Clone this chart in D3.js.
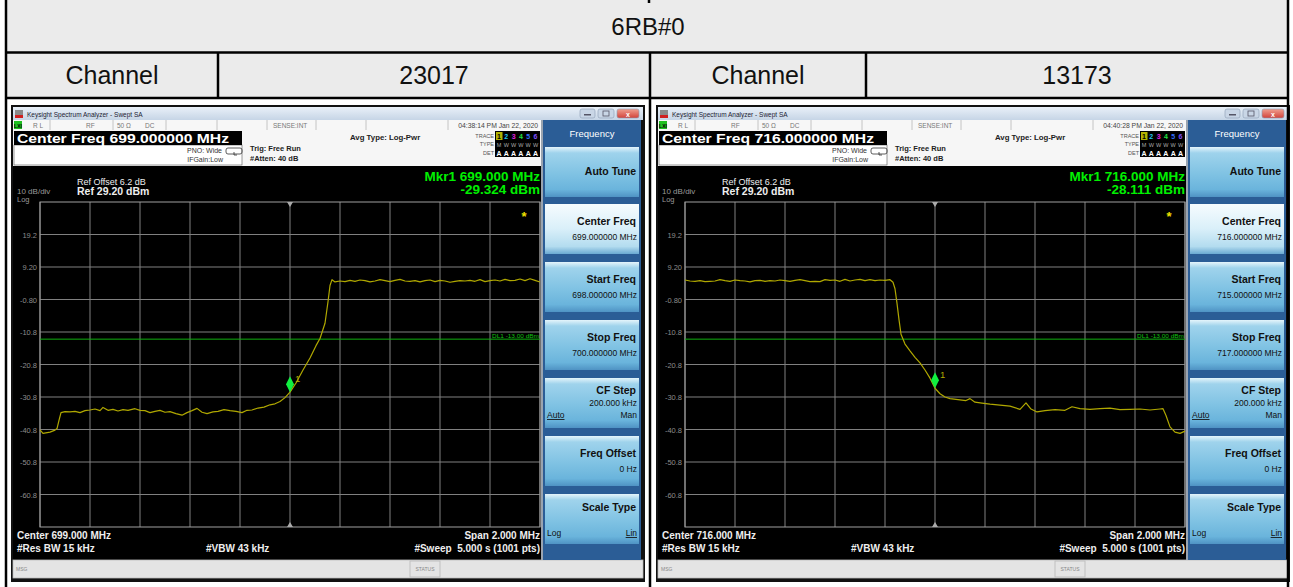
<!DOCTYPE html>
<html>
<head>
<meta charset="utf-8">
<script src="https://cdn.jsdelivr.net/npm/d3@7"></script>
<style>
  body { margin: 0; background: #fff; }
  svg { display: block; font-family: "Liberation Sans", Arial, sans-serif; }
</style>
</head>
<body>
<svg id="chart" width="1293" height="587"></svg>
<script>
// ---- table text ----
const tableTitle = "6RB#0";
const channelLabel = "Channel";
const channelNumbers = ["23017", "13173"];

// ---- analyzer settings (one entry per screenshot) ----
const centerFreqs = [699, 716];          // MHz
const spanMHz = 2;
const refLevel = 29.2;                   // dBm, top of graticule
const dbPerDiv = 10;
const displayLine = -13;                 // DL1
const markerDbm = [-29.324, -28.111];
const timeStamps = ["04:38:14 PM Jan 22, 2020", "04:40:28 PM Jan 22, 2020"];
const yTickValues = [19.2, 9.2, -0.8, -10.8, -20.8, -30.8, -40.8, -50.8, -60.8];
const yTickLabels = ["19.2", "9.20", "-0.80", "-10.8", "-20.8", "-30.8", "-40.8", "-50.8", "-60.8"];
const softkeyTitles = ["Auto Tune", "Center Freq", "Start Freq", "Stop Freq", "CF Step", "Freq Offset", "Scale Type"];

// ---- traces: [MHz, dBm] ----
const traceLow = [
  [698.000, -40.9], [698.012, -42.0], [698.040, -41.6], [698.060, -41.0], [698.068, -40.5],
  [698.076, -38.0], [698.084, -35.6], [698.100, -35.3], [698.120, -35.4], [698.140, -35.2],
  [698.160, -35.6], [698.180, -35.0], [698.200, -34.8], [698.220, -34.5], [698.240, -35.0],
  [698.252, -34.0], [698.272, -34.9], [698.292, -34.6], [698.312, -35.1], [698.332, -34.7],
  [698.352, -34.9], [698.380, -34.4], [698.400, -34.9], [698.420, -35.0], [698.440, -35.6],
  [698.460, -35.2], [698.480, -34.9], [698.500, -35.5], [698.520, -35.3], [698.544, -35.9],
  [698.568, -36.4], [698.588, -35.6], [698.608, -35.0], [698.628, -34.3], [698.648, -35.5],
  [698.668, -35.9], [698.692, -35.4], [698.712, -35.2], [698.736, -34.7], [698.760, -35.0],
  [698.784, -35.2], [698.808, -35.6], [698.828, -34.9], [698.848, -34.8], [698.872, -34.2],
  [698.896, -33.9], [698.920, -33.2], [698.940, -32.9], [698.960, -32.2], [698.980, -31.0],
  [699.000, -29.3], [699.024, -26.5], [699.052, -22.5], [699.080, -18.8], [699.104, -15.0],
  [699.120, -12.8], [699.140, -8.1], [699.152, -1.5], [699.160, 3.5], [699.168, 5.3],
  [699.18, 4.6], [699.20, 4.9], [699.22, 4.7], [699.24, 5.1], [699.26, 4.8], [699.28, 5.2],
  [699.30, 5.0], [699.32, 4.6], [699.34, 4.9], [699.36, 5.3], [699.38, 5.0], [699.40, 4.7],
  [699.42, 5.1], [699.44, 5.4], [699.46, 4.9], [699.48, 4.8], [699.50, 5.0], [699.52, 4.6],
  [699.54, 5.0], [699.56, 5.2], [699.58, 4.7], [699.60, 5.1], [699.62, 4.9], [699.64, 4.5],
  [699.66, 4.8], [699.68, 5.0], [699.70, 4.9], [699.72, 5.1], [699.74, 4.8], [699.76, 5.3],
  [699.78, 4.7], [699.80, 5.0], [699.82, 5.2], [699.84, 4.9], [699.86, 5.4], [699.88, 5.0],
  [699.90, 5.1], [699.92, 5.5], [699.94, 5.0], [699.96, 5.6], [699.98, 5.1], [700.00, 4.6]
];
const traceHigh = [
  [715.00, 5.2], [715.02, 4.9], [715.04, 4.8], [715.06, 5.0], [715.08, 4.7], [715.10, 4.8],
  [715.12, 4.9], [715.14, 5.3], [715.16, 5.0], [715.18, 4.8], [715.20, 5.2], [715.22, 5.0],
  [715.24, 4.9], [715.26, 4.6], [715.28, 5.0], [715.30, 5.1], [715.32, 4.8], [715.34, 5.0],
  [715.36, 4.9], [715.38, 5.2], [715.40, 5.0], [715.42, 4.8], [715.44, 5.1], [715.46, 5.3],
  [715.48, 5.0], [715.50, 4.7], [715.52, 4.8], [715.54, 4.7], [715.56, 5.3], [715.58, 5.1],
  [715.60, 5.2], [715.62, 4.8], [715.64, 5.4], [715.66, 4.9], [715.68, 5.2], [715.70, 5.4],
  [715.72, 5.0], [715.74, 5.3], [715.76, 5.0], [715.78, 5.2], [715.80, 5.1], [715.82, 5.3],
  [715.832, 4.5], [715.840, 2.5], [715.848, -2.0], [715.856, -7.0], [715.864, -11.5],
  [715.880, -14.5], [715.900, -16.6], [715.920, -18.6], [715.940, -20.3], [715.960, -22.5],
  [715.980, -25.0], [716.000, -28.1], [716.020, -29.8], [716.040, -30.8], [716.060, -31.3],
  [716.092, -31.6], [716.124, -31.9], [716.140, -31.3], [716.160, -32.4], [716.188, -32.7],
  [716.220, -33.0], [716.260, -33.3], [716.300, -33.6], [716.340, -34.6], [716.364, -32.6],
  [716.384, -34.5], [716.408, -35.4], [716.440, -35.0], [716.480, -34.7], [716.520, -34.9],
  [716.548, -33.8], [716.580, -34.4], [716.620, -34.6], [716.660, -34.4], [716.700, -34.2],
  [716.740, -34.7], [716.780, -34.6], [716.820, -34.5], [716.860, -34.8], [716.900, -34.5],
  [716.912, -34.4], [716.924, -36.5], [716.940, -40.0], [716.960, -41.6], [716.980, -42.0],
  [717.000, -41.3]
];
const traces = [traceLow, traceHigh];

const svg = d3.select("#chart");

// ---------- gradients ----------
const defs = svg.append("defs");
function grad(id, stops) {
  const lg = defs.append("linearGradient").attr("id", id).attr("x1", 0).attr("y1", 0).attr("x2", 0).attr("y2", 1);
  stops.forEach(([o, c]) => lg.append("stop").attr("offset", o).attr("stop-color", c));
}
grad("titleGrad", [[0, "#e9f0f8"], [1, "#c6d5e6"]]);
grad("keyGrad", [[0, "#e4f4fb"], [0.12, "#9fd3ec"], [0.55, "#7fc2e3"], [0.85, "#6ab4dc"], [1, "#4f93c4"]]);
grad("keySel", [[0, "#f6fcfe"], [0.5, "#d9eff9"], [0.85, "#b3dcef"], [1, "#6aa9d2"]]);
grad("closeGrad", [[0, "#f0a090"], [1, "#d2433a"]]);

// ---------- table ----------
const HEAD = "#ebebeb";
const cols = [6, 218, 650, 866, 1288];
svg.append("rect").attr("x", 6).attr("y", 0).attr("width", 1282).attr("height", 98).attr("fill", HEAD);

svg.append("text").attr("x", 648).attr("y", 35).attr("text-anchor", "middle")
  .attr("font-size", 24).attr("fill", "#111").text(tableTitle);

const row2 = [channelLabel, channelNumbers[0], channelLabel, channelNumbers[1]];
row2.forEach((t, i) => {
  svg.append("text").attr("x", (cols[i] + cols[i + 1]) / 2).attr("y", 84)
    .attr("text-anchor", "middle").attr("font-size", 25).attr("fill", "#111").text(t);
});

// ---------- analyzer screenshots ----------
function drawAnalyzer(ox, i) {
  const g = svg.append("g").attr("transform", `translate(${ox},0)`);
  const cf = centerFreqs[i];
  const x = d3.scaleLinear().domain([cf - spanMHz / 2, cf + spanMHz / 2]).range([40, 540]);
  const y = d3.scaleLinear().domain([refLevel - 10 * dbPerDiv, refLevel]).range([527, 202]);
  const f6 = v => v.toFixed(6), f3 = v => v.toFixed(3);

  // window frame + title bar
  g.append("rect").attr("x", 11).attr("y", 105).attr("width", 634).attr("height", 477).attr("fill", "#111");
  g.append("rect").attr("x", 13).attr("y", 107).attr("width", 630).attr("height", 13).attr("fill", "url(#titleGrad)");
  g.append("rect").attr("x", 15).attr("y", 110).attr("width", 8).attr("height", 8).attr("fill", "#8a8a8a");
  g.append("rect").attr("x", 15).attr("y", 115).attr("width", 8).attr("height", 3).attr("fill", "#d02020");
  g.append("text").attr("x", 27).attr("y", 116.5).attr("font-size", 6.5).attr("fill", "#223").text("Keysight Spectrum Analyzer - Swept SA");
  [[580, 15, "#c9d6e6"], [598, 16, "#c9d6e6"], [617, 22, "url(#closeGrad)"]].forEach(([bx, bw, f]) => {
    g.append("rect").attr("x", bx).attr("y", 109).attr("width", bw).attr("height", 9).attr("rx", 2)
      .attr("fill", f).attr("stroke", "#8a9cb4").attr("stroke-width", 0.6);
  });
  g.append("rect").attr("x", 584).attr("y", 114).attr("width", 7).attr("height", 1.5).attr("fill", "#556");
  g.append("rect").attr("x", 603).attr("y", 111).attr("width", 6).attr("height", 5).attr("fill", "none").attr("stroke", "#556").attr("stroke-width", 0.8);
  g.append("text").attr("x", 628).attr("y", 117).attr("text-anchor", "middle").attr("font-size", 7).attr("font-weight", "bold").attr("fill", "#fff").text("x");

  // status row
  g.append("rect").attr("x", 13).attr("y", 120).attr("width", 530).attr("height", 10).attr("fill", "#f7f7f7");
  g.append("rect").attr("x", 14).attr("y", 121).attr("width", 8).attr("height", 8).attr("fill", "#20c020");
  g.append("text").attr("x", 18).attr("y", 127.5).attr("text-anchor", "middle").attr("font-size", 5).attr("font-weight", "bold").attr("fill", "#000").text("LXI");
  [50, 113, 166, 217, 267, 316, 366, 448].forEach(sx => {
    g.append("line").attr("x1", sx).attr("x2", sx).attr("y1", 120).attr("y2", 130).attr("stroke", "#c4c4c4");
  });
  const st = [[33, "R L"], [86, "RF"], [117, "50 Ω"], [145, "DC"], [273, "SENSE:INT"]];
  st.forEach(([sx, t]) => g.append("text").attr("x", sx).attr("y", 128).attr("font-size", 6.5).attr("fill", "#777").text(t));
  g.append("text").attr("x", 538).attr("y", 128).attr("text-anchor", "end").attr("font-size", 6.8).attr("fill", "#444").text(timeStamps[i]);

  // settings area
  g.append("rect").attr("x", 13).attr("y", 130).attr("width", 530).attr("height", 36).attr("fill", "#f6f6f6");
  g.append("rect").attr("x", 14).attr("y", 145).attr("width", 228).attr("height", 20).attr("fill", "#fff")
    .attr("stroke", "#555").attr("stroke-width", 0.6);
  g.append("rect").attr("x", 14).attr("y", 131).attr("width", 228).attr("height", 14).attr("fill", "#000");
  g.append("text").attr("x", 17).attr("y", 142.5).attr("font-size", 13).attr("font-weight", "bold").attr("fill", "#fff")
    .attr("textLength", 212).attr("lengthAdjust", "spacingAndGlyphs")
    .text(`Center Freq ${f6(cf)} MHz`);
  g.append("text").attr("x", 222).attr("y", 153).attr("text-anchor", "end").attr("font-size", 7).attr("fill", "#333").text("PNO: Wide");
  g.append("text").attr("x", 223).attr("y", 162).attr("text-anchor", "end").attr("font-size", 7).attr("fill", "#333").text("IFGain:Low");
  g.append("path").attr("d", "M228,148 h12 a2,2 0 0 1 2,2 v2 a2,2 0 0 1 -2,2 h-12 a2,2 0 0 1 -2,-2 v-2 a2,2 0 0 1 2,-2 Z M234,152 v3 h3")
    .attr("fill", "none").attr("stroke", "#333").attr("stroke-width", 0.8);
  g.append("text").attr("x", 250).attr("y", 151).attr("font-size", 7.5).attr("font-weight", "bold").attr("fill", "#222").text("Trig: Free Run");
  g.append("text").attr("x", 250).attr("y", 161).attr("font-size", 7.5).attr("font-weight", "bold").attr("fill", "#222").text("#Atten: 40 dB");
  g.append("text").attr("x", 350).attr("y", 140).attr("font-size", 7.8).attr("font-weight", "bold").attr("fill", "#222").text("Avg Type: Log-Pwr");
  // trace block
  g.append("text").attr("x", 494).attr("y", 138).attr("text-anchor", "end").attr("font-size", 5.5).attr("fill", "#555").text("TRACE");
  g.append("text").attr("x", 494).attr("y", 146).attr("text-anchor", "end").attr("font-size", 5.5).attr("fill", "#555").text("TYPE");
  g.append("text").attr("x", 494).attr("y", 155).attr("text-anchor", "end").attr("font-size", 5.5).attr("fill", "#555").text("DET");
  g.append("rect").attr("x", 495).attr("y", 131).attr("width", 45).attr("height", 26).attr("fill", "#000");
  g.append("rect").attr("x", 496).attr("y", 132).attr("width", 6.5).attr("height", 8).attr("fill", "#b3b300");
  const traceCols = ["#000", "#22c8f0", "#e020e0", "#20e040", "#3070ff", "#8050ff"];
  traceCols.forEach((c, k) => {
    g.append("text").attr("x", 499 + k * 7.3).attr("y", 139).attr("text-anchor", "middle").attr("font-size", 7)
      .attr("font-weight", "bold").attr("fill", c).text(k + 1);
    g.append("text").attr("x", 499 + k * 7.3).attr("y", 147).attr("text-anchor", "middle").attr("font-size", 5.5)
      .attr("fill", "#aaa").text(k === 0 ? "M" : "W");
    g.append("text").attr("x", 499 + k * 7.3).attr("y", 155.5).attr("text-anchor", "middle").attr("font-size", 7)
      .attr("font-weight", "bold").attr("fill", "#fff").text("A");
  });

  // black display
  g.append("rect").attr("x", 13).attr("y", 166).attr("width", 530).attr("height", 394).attr("fill", "#000");
  g.append("text").attr("x", 77).attr("y", 185).attr("font-size", 9).attr("fill", "#eee").text("Ref Offset 6.2 dB");
  g.append("text").attr("x", 77).attr("y", 195).attr("font-size", 10.5).attr("font-weight", "bold").attr("fill", "#eee").text("Ref 29.20 dBm");
  g.append("text").attr("x", 17).attr("y", 193.5).attr("font-size", 8).attr("fill", "#999").text("10 dB/div");
  g.append("text").attr("x", 17).attr("y", 201.5).attr("font-size", 7.5).attr("fill", "#999").text("Log");
  g.append("text").attr("x", 540).attr("y", 181).attr("text-anchor", "end").attr("font-size", 13.5).attr("font-weight", "bold")
    .attr("fill", "#00f000").text(`Mkr1 ${f3(cf)} MHz`);
  g.append("text").attr("x", 540).attr("y", 193.5).attr("text-anchor", "end").attr("font-size", 13.5).attr("font-weight", "bold")
    .attr("fill", "#00f000").text(`${f3(markerDbm[i])} dBm`);

  // graticule
  const grid = g.append("g").attr("stroke", "#808080").attr("stroke-width", 1);
  x.ticks(10).forEach(f => grid.append("line").attr("x1", x(f)).attr("x2", x(f)).attr("y1", 202).attr("y2", 527));
  yTickValues.forEach(v => grid.append("line").attr("x1", 40).attr("x2", 540).attr("y1", y(v)).attr("y2", y(v)));
  grid.append("rect").attr("x", 40).attr("y", 202).attr("width", 500).attr("height", 325).attr("fill", "none").attr("stroke", "#a0a0a0");
  yTickValues.forEach((v, k) => {
    g.append("text").attr("x", 37).attr("y", y(v) + 3).attr("text-anchor", "end").attr("font-size", 7.5)
      .attr("fill", "#8c8c8c").text(yTickLabels[k]);
  });
  // center markers
  g.append("path").attr("d", `M${x(cf) - 3},202 L${x(cf) + 3},202 L${x(cf)},207 Z`).attr("fill", "#aaa");
  g.append("path").attr("d", `M${x(cf) - 3},527 L${x(cf) + 3},527 L${x(cf)},522 Z`).attr("fill", "#aaa");

  // display line
  g.append("line").attr("x1", 40).attr("x2", 540).attr("y1", y(displayLine)).attr("y2", y(displayLine))
    .attr("stroke", "#10b010").attr("stroke-width", 1);
  g.append("text").attr("x", 539).attr("y", y(displayLine) - 1.5).attr("text-anchor", "end").attr("font-size", 5.5)
    .attr("fill", "#10c010").attr("textLength", 47).attr("lengthAdjust", "spacingAndGlyphs").text("DL1 -13.00 dBm");

  // trace
  const line = d3.line().x(d => x(d[0])).y(d => y(d[1]));
  g.append("path").datum(traces[i]).attr("d", line).attr("fill", "none")
    .attr("stroke", "#b0a800").attr("stroke-width", 1.2).attr("stroke-linejoin", "round");

  // marker
  const mx = x(cf), my = y(markerDbm[i]);
  g.append("path").attr("d", `M${mx},${my - 16} L${mx + 4},${my - 8} L${mx},${my} L${mx - 4},${my - 8} Z`).attr("fill", "#10f040");
  g.append("text").attr("x", mx + 5).attr("y", my - 10).attr("font-size", 9.5).attr("fill", "#b0a800").text("1");
  // star
  g.append("text").attr("x", 524).attr("y", 221).attr("text-anchor", "middle").attr("font-size", 13).attr("font-weight", "bold")
    .attr("fill", "#f0e000").text("*");

  // bottom annotations
  const bt = (tx, ty, t, anchor) => g.append("text").attr("x", tx).attr("y", ty).attr("text-anchor", anchor || "start")
    .attr("font-size", 10).attr("font-weight", "bold").attr("fill", "#eee").text(t);
  bt(17, 539, `Center ${f3(cf)} MHz`);
  bt(17, 552, "#Res BW 15 kHz");
  bt(206, 552, "#VBW 43 kHz");
  bt(540, 539, `Span ${f3(spanMHz)} MHz`, "end");
  bt(540, 552, "#Sweep  5.000 s (1001 pts)", "end").attr("xml:space", "preserve");

  // msg bar
  g.append("rect").attr("x", 13).attr("y", 560).attr("width", 630).attr("height", 18).attr("fill", "#e4e4e4")
    .attr("stroke", "#bbb").attr("stroke-width", 0.8);
  g.append("rect").attr("x", 410).attr("y", 561).attr("width", 30).attr("height", 16).attr("fill", "none").attr("stroke", "#c0c0c0");
  g.append("text").attr("x", 16).attr("y", 571).attr("font-size", 5).attr("fill", "#888").text("MSG");
  g.append("text").attr("x", 425).attr("y", 571).attr("text-anchor", "middle").attr("font-size", 5).attr("fill", "#888").text("STATUS");

  // softkey panel
  g.append("rect").attr("x", 543).attr("y", 120).attr("width", 98).attr("height", 440).attr("fill", "#2b5d96");
  g.append("rect").attr("x", 541).attr("y", 120).attr("width", 2).attr("height", 440).attr("fill", "#9aa4b0");
  g.append("text").attr("x", 592).attr("y", 137).attr("text-anchor", "middle").attr("font-size", 9.5).attr("fill", "#fff").text("Frequency");
  const tops = [147, 204, 262, 320, 378, 436, 494];
  const values = [null, `${f6(cf)} MHz`, `${f6(cf - spanMHz / 2)} MHz`, `${f6(cf + spanMHz / 2)} MHz`, "200.000 kHz", "0 Hz", null];
  const titleOff = [28, 21, 21, 21, 16, 21, 17];
  softkeyTitles.forEach((t, k) => {
    const top = tops[k];
    g.append("rect").attr("x", 545).attr("y", top).attr("width", 94).attr("height", 50)
      .attr("fill", k === 1 ? "url(#keySel)" : "url(#keyGrad)");
    g.append("text").attr("x", 636).attr("y", top + titleOff[k]).attr("text-anchor", "end").attr("font-size", 10.5)
      .attr("font-weight", "bold").attr("fill", "#111").text(t);
    if (values[k]) {
      g.append("text").attr("x", 637).attr("y", top + (k === 4 ? 28 : 36)).attr("text-anchor", "end").attr("font-size", 8.5)
        .attr("fill", "#111").text(values[k]);
    }
  });
  // CF step auto/man
  g.append("text").attr("x", 547).attr("y", 418).attr("font-size", 8.5).attr("fill", "#111").attr("text-decoration", "underline").text("Auto");
  g.append("text").attr("x", 637).attr("y", 418).attr("text-anchor", "end").attr("font-size", 8.5).attr("fill", "#111").text("Man");
  // scale type log/lin
  g.append("text").attr("x", 547).attr("y", 536).attr("font-size", 8.5).attr("fill", "#111").text("Log");
  g.append("text").attr("x", 637).attr("y", 536).attr("text-anchor", "end").attr("font-size", 8.5).attr("fill", "#111").attr("text-decoration", "underline").text("Lin");
}

drawAnalyzer(0, 0);
drawAnalyzer(645, 1);

// ---------- table borders (drawn on top) ----------
const border = svg.append("g").attr("stroke", "#000").attr("stroke-width", 2.5);
border.append("line").attr("x1", 6).attr("x2", 1288).attr("y1", 52.5).attr("y2", 52.5);
border.append("line").attr("x1", 6).attr("x2", 1288).attr("y1", 98).attr("y2", 98);
border.append("line").attr("x1", 6).attr("x2", 6).attr("y1", 0).attr("y2", 587);
border.append("line").attr("x1", 1288).attr("x2", 1288).attr("y1", 0).attr("y2", 587);
border.append("line").attr("x1", 649).attr("x2", 649).attr("y1", 0).attr("y2", 3);
[218, 866].forEach(cx => border.append("line").attr("x1", cx).attr("x2", cx).attr("y1", 52.5).attr("y2", 98));
border.append("line").attr("x1", 650).attr("x2", 650).attr("y1", 52.5).attr("y2", 587);
</script>
</body>
</html>
